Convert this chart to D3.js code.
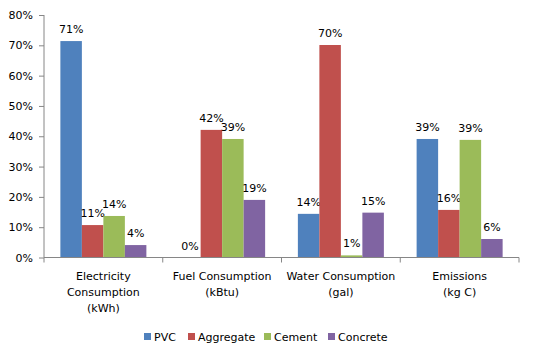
<!DOCTYPE html>
<html><head><meta charset="utf-8">
<script src="https://cdn.jsdelivr.net/npm/d3@7"></script>
<style>body{margin:0;background:#fff}svg{display:block}text{font-family:"DejaVu Sans",Verdana,sans-serif;fill:#000}</style>
</head><body><div id="chart"></div>
<script>
const categories = [["Electricity","Consumption","(kWh)"],["Fuel Consumption","(kBtu)"],["Water Consumption","(gal)"],["Emissions","(kg C)"]];
const seriesNames = ["PVC","Aggregate","Cement","Concrete"];
const pvc = [71.4, 0, 14.4, 39.1];
const aggregate = [10.7, 42.1, 70.1, 15.7];
const cement = [13.7, 39.1, 0.7, 38.8];
const concrete = [4.1, 19.0, 14.8, 6.1];
const colors = ["#4F81BD","#C0504D","#9BBB59","#8064A2"];
const yTicks = [0,10,20,30,40,50,60,70,80];
const seriesValues = [pvc, aggregate, cement, concrete];

(function(){
const W = 533, H = 356;
const svg = d3.select("#chart").append("svg").attr("width", W).attr("height", H);
const mLeft = 44, mRight = 519, mTop = 15, mBottom = 257.5;
const x0 = d3.scaleBand().domain(d3.range(categories.length)).range([mLeft, mRight]).paddingInner(0).paddingOuter(0);
const groupW = x0.bandwidth() * 86 / 118.75;
const x1 = d3.scaleBand().domain(d3.range(seriesNames.length)).range([0, groupW]);
const y = d3.scaleLinear().domain([0, 80]).range([mBottom, mTop]);
const axisColor = "#868686";

const ya = svg.append("g").attr("transform", `translate(${mLeft},0)`)
  .call(d3.axisLeft(y).tickValues(yTicks).tickFormat(d => d + "%").tickSize(5).tickPadding(6));
ya.selectAll("path,line").attr("stroke", axisColor);
ya.selectAll("text").attr("font-size", 11).attr("font-family", '"DejaVu Sans",Verdana,sans-serif').attr("fill", "#000");
ya.select(".domain").attr("d", `M0,${mTop}V${mBottom}`);

seriesValues.forEach((vals, s) => {
  const g = svg.append("g");
  g.selectAll("rect").data(vals).join("rect")
    .attr("x", (d, i) => x0(i) + (x0.bandwidth() - groupW) / 2 + x1(s))
    .attr("width", x1.bandwidth())
    .attr("y", d => y(d))
    .attr("height", d => y(0) - y(d))
    .attr("fill", colors[s]);
  g.selectAll("text").data(vals).join("text")
    .attr("x", (d, i) => x0(i) + (x0.bandwidth() - groupW) / 2 + x1(s) + x1.bandwidth() / 2)
    .attr("y", d => y(d) - 8)
    .attr("text-anchor", "middle")
    .attr("font-size", 11)
    .text(d => Math.round(d) + "%");
});

const xa = svg.append("g").attr("transform", `translate(0,${mBottom})`);
xa.append("line").attr("x1", mLeft).attr("x2", mRight).attr("stroke", axisColor);
const bounds = d3.range(categories.length + 1).map(i => i < categories.length ? x0(i) : mRight);
xa.selectAll("line.tick").data(bounds).join("line").attr("class", "tick")
  .attr("x1", d => d).attr("x2", d => d).attr("y1", 0).attr("y2", 5).attr("stroke", axisColor);
categories.forEach((lines, i) => {
  const t = xa.append("text").attr("text-anchor", "middle").attr("font-size", 11);
  lines.forEach((ln, j) => t.append("tspan").attr("x", x0(i) + x0.bandwidth() / 2).attr("y", 22 + j * 16).text(ln));
});

const legX = [144, 188, 264, 328];
const leg = svg.append("g");
seriesNames.forEach((n, i) => {
  leg.append("rect").attr("x", legX[i]).attr("y", 333).attr("width", 7).attr("height", 7).attr("fill", colors[i]);
  leg.append("text").attr("x", legX[i] + 10).attr("y", 341).attr("font-size", 11).text(n);
});
})();
</script></body></html>
